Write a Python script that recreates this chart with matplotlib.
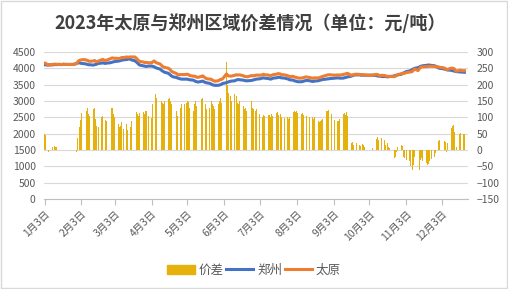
import pandas as pd
import matplotlib
matplotlib.use("Agg")
import matplotlib.pyplot as plt
from matplotlib.patches import Patch, Rectangle
from matplotlib.lines import Line2D

plt.rcParams["font.family"] = ["Noto Sans CJK SC", "DejaVu Sans"]

title = "2023年太原与郑州区域价差情况（单位：元/吨）"
series_names = ["价差", "郑州", "太原"]
tick_dates = ["2023-%02d-03" % m for m in range(1, 13)]
tick_labels = ["%d月3日" % m for m in range(1, 13)]

# 价差 (太原 - 郑州), one value per working day, by month
spread = [
    50, 45, 20, -5, 0, 10, 12, 10, 8, 2, 0, 0, 0, 0, 0, 0, 0, 0, 0, -6, 38,
    70, 92, 113, 128, 120, 128, 110, 105, 125, 130, 95, 75, 70, 100, 105, 95, 92, 90, 120, 128,
    130, 110, 100, 80, 70, 75, 85, 65, 80, 60, 55, 70, 90, 118, 115, 110, 105, 112, 115, 110, 118, 120, 105,
    98, 140, 175, 170, 160, 155, 150, 145, 140, 150, 155, 160, 150, 140, 145, 120, 105, 110, 130, 140,
    140, 145, 150, 148, 130, 120, 140, 150, 135, 145, 155, 160, 150, 140, 125, 130, 150, 140, 135, 125, 140, 150, 160,
    145, 155, 270, 200, 175, 165, 150, 170, 165, 145, 140, 150, 135, 125, 130, 120, 125, 150, 130, 125, 120, 125,
    110, 105, 100, 108, 104, 106, 108, 100, 110, 104, 112, 115, 108, 110, 100, 98, 100, 102, 96, 100, 115,
    118, 115, 120, 112, 110, 112, 108, 115, 105, 100, 98, 102, 95, 100, 88, 85, 90, 92, 95, 118, 120, 122, 115,
    110, 92, 95, 90, 88, 95, 110, 112, 108, 115, 105, 20, 25, 15, 18, 22, 15, 12, 18, 14, 10,
    0, 0, 0, 0, 5, 35, 40, 30, -5, 38, 30, 15, 20, 10, 5, -10, -25, -20, -5, 10, 15, 12,
    -20, -25, -30, -35, -50, -60, -45, -20, -88, -60, -30, -25, -35, -40, -45, -42, -35, -28, -20, -10, 5, 28,
    30, 32, 28, 25, -5, 20, 68, 72, 78, 55, 10, 50, 52, 50, 48, 50,
]

# 郑州 price, same days
zhengzhou = [
    4110, 4110, 4100, 4105, 4110, 4115, 4110, 4120, 4115, 4120, 4115, 4120, 4125, 4120, 4120, 4120, 4120, 4120, 4120, 4150, 4170,
    4170, 4160, 4150, 4140, 4130, 4120, 4110, 4110, 4100, 4110, 4120, 4130, 4150, 4160, 4170, 4160, 4150, 4160, 4170, 4180,
    4190, 4200, 4210, 4220, 4230, 4240, 4250, 4260, 4270, 4280, 4290, 4280, 4260, 4230, 4200, 4170, 4130, 4100, 4080, 4070, 4060, 4060, 4070,
    4070, 4060, 4050, 4030, 4010, 3980, 3950, 3920, 3900, 3880, 3850, 3820, 3790, 3760, 3740, 3720, 3700, 3690, 3680, 3670,
    3670, 3670, 3670, 3660, 3650, 3640, 3620, 3600, 3590, 3580, 3600, 3610, 3590, 3570, 3560, 3540, 3520, 3500, 3490, 3480, 3480, 3490, 3500,
    3520, 3540, 3560, 3580, 3590, 3600, 3610, 3620, 3640, 3650, 3660, 3650, 3640, 3630, 3620, 3620, 3620, 3630, 3640, 3650, 3660, 3670,
    3680, 3690, 3700, 3710, 3700, 3690, 3680, 3670, 3680, 3700, 3710, 3720, 3730, 3720, 3710, 3700, 3690, 3680, 3670, 3650, 3640,
    3620, 3610, 3600, 3590, 3590, 3600, 3610, 3620, 3630, 3620, 3610, 3600, 3600, 3610, 3620, 3630, 3640, 3650, 3660, 3670, 3680, 3680, 3690,
    3690, 3700, 3700, 3710, 3710, 3700, 3700, 3710, 3720, 3730, 3740, 3760, 3780, 3790, 3800, 3800, 3800, 3790, 3790, 3790, 3790,
    3790, 3790, 3790, 3790, 3790, 3780, 3770, 3760, 3760, 3750, 3750, 3750, 3740, 3740, 3750, 3760, 3770, 3780, 3790, 3800, 3820, 3840,
    3860, 3880, 3900, 3920, 3940, 3960, 3980, 4000, 4020, 4040, 4060, 4070, 4080, 4090, 4100, 4100, 4100, 4090, 4080, 4060, 4040, 4020,
    4000, 3990, 3980, 3970, 3960, 3950, 3940, 3930, 3920, 3910, 3900, 3890, 3890, 3880, 3880, 3880,
]

dates = pd.bdate_range("2023-01-03", "2023-12-22")
n = min(len(dates), len(spread), len(zhengzhou))
df = pd.DataFrame({"spread": spread[:n], "zhengzhou": zhengzhou[:n]}, index=dates[:n])
df["taiyuan"] = df["zhengzhou"] + df["spread"]

bar_color = "#E6B10C"
blue = "#4472C4"
orange = "#ED7D31"
grey = "#595959"

fig = plt.figure(figsize=(5.08, 2.89), dpi=100)
ax = fig.add_axes([0.0866, 0.3114, 0.8346, 0.5086])
ax2 = ax.twinx()
ax.set_zorder(ax2.get_zorder() + 1)
ax.patch.set_visible(False)

ax2.bar(df.index, df["spread"], width=0.75, color=bar_color, linewidth=0)
ax2.set_ylim(-150, 300)
ax2.set_yticks(range(-150, 301, 50))
ax2.grid(axis="y", color="#D9D9D9", linewidth=0.8)
ax2.set_axisbelow(True)

ax.plot(df.index, df["zhengzhou"], color=blue, lw=2.2)
ax.plot(df.index, df["taiyuan"], color=orange, lw=2.2)
ax.set_ylim(0, 4500)
ax.set_yticks(range(0, 4501, 500))
ax.set_xlim(pd.Timestamp("2023-01-02 12:00"), pd.Timestamp("2023-12-25"))

for a in (ax, ax2):
    for s in a.spines.values():
        s.set_visible(False)
ax.spines["bottom"].set_visible(True)
ax.spines["bottom"].set_color("#BFBFBF")

ax.set_xticks(pd.to_datetime(tick_dates))
ax.set_xticklabels(tick_labels, rotation=45, ha="right", rotation_mode="anchor")
ax.tick_params(axis="x", length=4, color="#BFBFBF", labelsize=7.5, labelcolor=grey, pad=3)
ax.tick_params(axis="y", length=0, labelsize=7.5, labelcolor=grey, pad=6)
ax2.tick_params(axis="y", length=0, labelsize=7.5, labelcolor=grey, pad=6)

fig.text(0.492, 1 - 23 / 289, title, ha="center", va="center",
         fontsize=13, fontweight="bold", color="#404040")

handles = [Patch(color=bar_color), Line2D([], [], color=blue, lw=2.2),
           Line2D([], [], color=orange, lw=2.2)]
fig.legend(handles, series_names, loc="center", bbox_to_anchor=(0.5, 1 - 270 / 289),
           ncol=3, frameon=False, fontsize=9, handlelength=2.2,
           handletextpad=0.3, columnspacing=0.2, labelcolor=grey)

fig.patches.append(Rectangle((0.001, 0.002), 0.997, 0.995, transform=fig.transFigure,
                             fill=False, edgecolor="#D9D9D9", lw=1))

fig.savefig("out.png", dpi=100)
